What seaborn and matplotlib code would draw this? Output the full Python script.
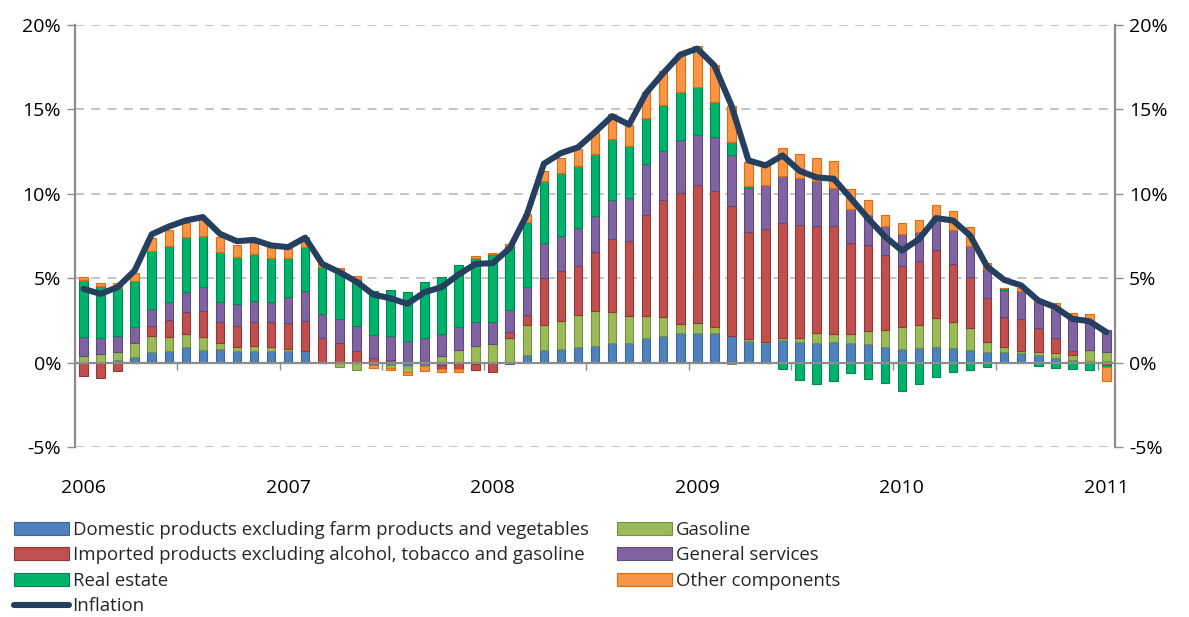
import numpy as np
import pandas as pd
import matplotlib
matplotlib.use("Agg")
import matplotlib.pyplot as plt
import seaborn as sns
from matplotlib.patches import Patch
from matplotlib.lines import Line2D

# ---------------- data (percent) ----------------
years = ["2006", "2007", "2008", "2009", "2010", "2011"]

domestic = [0, 0, 0.18, 0.35, 0.6, 0.67, 0.95, 0.75, 0.83, 0.71, 0.67, 0.71,
            0.67, 0.67, -0.05, 0, 0, -0.15, -0.15, -0.2, -0.2, -0.15, -0.05, -0.1,
            0, -0.1, 0.47, 0.75, 0.83, 0.91, 1.0, 1.15, 1.19, 1.48, 1.6, 1.78,
            1.78, 1.74, 1.6, 1.28, 1.19, 1.34, 1.2, 1.15, 1.25, 1.19, 1.09, 0.91,
            0.81, 0.85, 0.91, 0.87, 0.75, 0.65, 0.61, 0.59, 0.43, 0.26, 0.16, 0.12, 0.12]

gasoline = [0.4, 0.5, 0.45, 0.8, 1.0, 0.87, 0.75, 0.75, 0.32, 0.24, 0.3, 0.24,
            0.12, 0, 0, -0.28, -0.45, 0, -0.15, -0.35, 0, 0.4, 0.75, 0.97,
            1.09, 1.44, 1.76, 1.48, 1.64, 1.92, 2.04, 1.82, 1.58, 1.28, 1.13, 0.49,
            0.55, 0.34, -0.1, 0.1, 0.02, 0.1, 0.24, 0.59, 0.45, 0.49, 0.79, 1.03,
            1.28, 1.4, 1.74, 1.52, 1.28, 0.57, 0.3, 0.12, 0.2, 0.32, 0.28, 0.63, 0.51]

imported = [-0.8, -0.93, -0.5, -0.05, 0.55, 1.0, 1.3, 1.54, 1.26, 1.24, 1.42, 1.46,
            1.54, 1.82, 1.46, 1.15, 0.71, 0.28, 0.15, 0, 0, -0.2, -0.35, -0.35,
            -0.57, 0.36, 0.59, 2.81, 2.96, 2.92, 3.5, 4.35, 4.41, 5.99, 6.88, 7.77,
            8.2, 8.1, 7.69, 6.38, 6.68, 6.82, 6.72, 6.38, 6.42, 5.38, 5.1, 4.41,
            3.66, 3.75, 4.03, 3.46, 3.06, 2.59, 1.78, 1.88, 1.42, 0.87, 0.24, 0, -0.12]

services = [1.1, 0.95, 0.95, 0.97, 1.05, 1.07, 1.17, 1.42, 1.17, 1.28, 1.28, 1.17,
            1.54, 1.78, 1.42, 1.44, 1.46, 1.38, 1.4, 1.3, 1.46, 1.28, 1.38, 1.46,
            1.34, 1.32, 1.66, 2.02, 2.09, 2.21, 2.13, 2.29, 2.57, 3.0, 2.9, 3.16,
            2.96, 3.16, 3.02, 2.61, 2.63, 2.79, 2.77, 2.61, 2.25, 2.02, 1.78, 1.76,
            1.88, 1.72, 1.94, 1.98, 1.84, 1.74, 1.62, 1.64, 1.52, 1.74, 2.02, 1.64, 1.3]

real_estate = [3.4, 3.1, 2.85, 2.7, 3.4, 3.3, 3.26, 3.06, 2.96, 2.77, 2.77, 2.63,
               2.33, 2.57, 2.77, 2.87, 2.79, 2.61, 2.75, 2.9, 3.3, 3.4, 3.66, 3.77,
               4.0, 3.81, 3.83, 3.68, 3.72, 3.66, 3.68, 3.66, 3.1, 2.77, 2.77, 2.83,
               2.81, 2.08, 0.73, 0.12, -0.05, -0.4, -1.03, -1.26, -1.07, -0.63, -0.99, -1.2,
               -1.7, -1.27, -0.87, -0.55, -0.43, -0.25, 0.12, -0.05, -0.2, -0.33, -0.37, -0.43, -0.12]

other = [0.15, 0.18, 0.28, 0.5, 0.8, 0.93, 0.83, 0.99, 0.93, 0.75, 0.63, 0.63,
         0.57, 0.63, 0.24, 0.14, 0.16, -0.15, -0.15, -0.2, -0.3, -0.2, -0.15, 0.14,
         0.08, 0.08, 0.49, 0.59, 0.91, 1.05, 1.3, 1.46, 1.25, 1.5, 1.98, 2.27,
         2.43, 2.23, 2.19, 1.42, 1.38, 1.66, 1.42, 1.42, 1.58, 1.23, 0.87, 0.61,
         0.63, 0.73, 0.73, 1.15, 1.09, 0.34, 0, 0.2, 0.14, 0.34, 0.24, 0.49, -0.83]

inflation = [4.37, 4.07, 4.47, 5.45, 7.6, 8.06, 8.42, 8.62, 7.63, 7.19, 7.27, 6.94,
             6.84, 7.4, 5.85, 5.36, 4.8, 4.03, 3.81, 3.48, 4.17, 4.47, 5.22, 5.85,
             5.89, 6.78, 8.75, 11.78, 12.41, 12.75, 13.65, 14.6, 14.1, 15.97, 17.15, 18.24,
             18.6, 17.6, 15.24, 11.98, 11.68, 12.27, 11.36, 10.97, 10.89, 9.74, 8.56, 7.47,
             6.64, 7.31, 8.56, 8.42, 7.53, 5.69, 4.9, 4.57, 3.68, 3.28, 2.59, 2.45, 1.8]

series_names = [
    "Domestic products excluding farm products and vegetables",
    "Gasoline",
    "Imported products excluding alcohol, tobacco and gasoline",
    "General services",
    "Real estate",
    "Other components",
]
series_values = [domestic, gasoline, imported, services, real_estate, other]
fills = ["#4F81BD", "#9BBB59", "#C0504D", "#8064A2", "#00B36B", "#F79646"]
edges = ["#3A6699", "#76923C", "#953735", "#604A7B", "#00894F", "#E46C0A"]
line_color = "#243F60"

# ---------------- figure ----------------
sns.set_theme(style="white")
plt.rcParams["font.family"] = ["Open Sans", "DejaVu Sans"]

W, H = 1189, 617
fig = plt.figure(figsize=(W / 100, H / 100), dpi=100)
ax = fig.add_axes([75 / W, 1 - 447 / H, (1115 - 75) / W, (447 - 25) / H])

n = len(inflation)
x = np.arange(n)
pos_bottom = np.zeros(n)
neg_bottom = np.zeros(n)
for name, vals, fc, ec in zip(series_names, series_values, fills, edges):
    v = np.array(vals, dtype=float)
    bottom = np.where(v >= 0, pos_bottom, neg_bottom)
    ax.bar(x, v, bottom=bottom, width=0.5, color=fc, edgecolor=ec,
           linewidth=0.8, zorder=2)
    pos_bottom += np.where(v >= 0, v, 0)
    neg_bottom += np.where(v < 0, v, 0)

df = pd.DataFrame({"x": x, "inflation": inflation})
sns.lineplot(data=df, x="x", y="inflation", ax=ax, color=line_color,
             linewidth=4.4, zorder=4, legend=False)
for l in ax.lines:
    l.set_solid_joinstyle("round")
    l.set_solid_capstyle("round")

ax.set_xlim(-0.5, n - 0.5)
ax.set_ylim(-5, 20)
ax.set_xlabel("")
ax.set_ylabel("")

yt = [-5, 0, 5, 10, 15, 20]
ax.set_yticks(yt)
ax.set_yticklabels([f"{v}%" for v in yt])
ax.tick_params(axis="y", left=True, right=True, labelleft=True, labelright=True,
               direction="out", length=6, width=1, color="#8C8C8C",
               labelsize=14, labelcolor="black", pad=4)

# dashed grid
for v in [-5, 5, 10, 15, 20]:
    ax.axhline(v, color="#BFBFBF", linestyle=(0, (5, 4)), linewidth=1.3, zorder=0)

# spines
ax.spines["top"].set_visible(False)
ax.spines["bottom"].set_position(("data", 0))
ax.spines["bottom"].set_color("#8C8C8C")
ax.spines["bottom"].set_linewidth(1.6)
ax.spines["bottom"].set_zorder(3)
for s in ["left", "right"]:
    ax.spines[s].set_color("#8C8C8C")
    ax.spines[s].set_linewidth(1.6)

ax.set_xticks(np.arange(5.5, n - 1, 6))
ax.set_xticklabels([])
ax.tick_params(axis="x", bottom=True, direction="out", length=5, width=1,
               color="#8C8C8C")

for i, yr in enumerate(years):
    ax.text(i * 12, -0.097, yr, transform=ax.get_xaxis_transform(),
            ha="center", va="center", fontsize=14, color="black", clip_on=False)

# legends (two columns)
def patch(i):
    return Patch(facecolor=fills[i], edgecolor=edges[i], linewidth=0.8)

col1_handles = [patch(0), patch(2), patch(4),
                Line2D([0], [0], color=line_color, linewidth=4.4)]
col1_labels = [series_names[0], series_names[2], series_names[4], "Inflation"]
col2_handles = [patch(1), patch(3), patch(5)]
col2_labels = [series_names[1], series_names[3], series_names[5]]

common = dict(frameon=False, fontsize=13.4, handlelength=2.95, handleheight=0.7,
              handletextpad=0.2, labelspacing=0.4, borderaxespad=0,
              borderpad=0, loc="upper left")
fig.legend(col1_handles, col1_labels, bbox_to_anchor=(14 / W, 1 - 521 / H), **common)
fig.legend(col2_handles, col2_labels, bbox_to_anchor=(617 / W, 1 - 521 / H), **common)

fig.savefig("out.png", dpi=100)
